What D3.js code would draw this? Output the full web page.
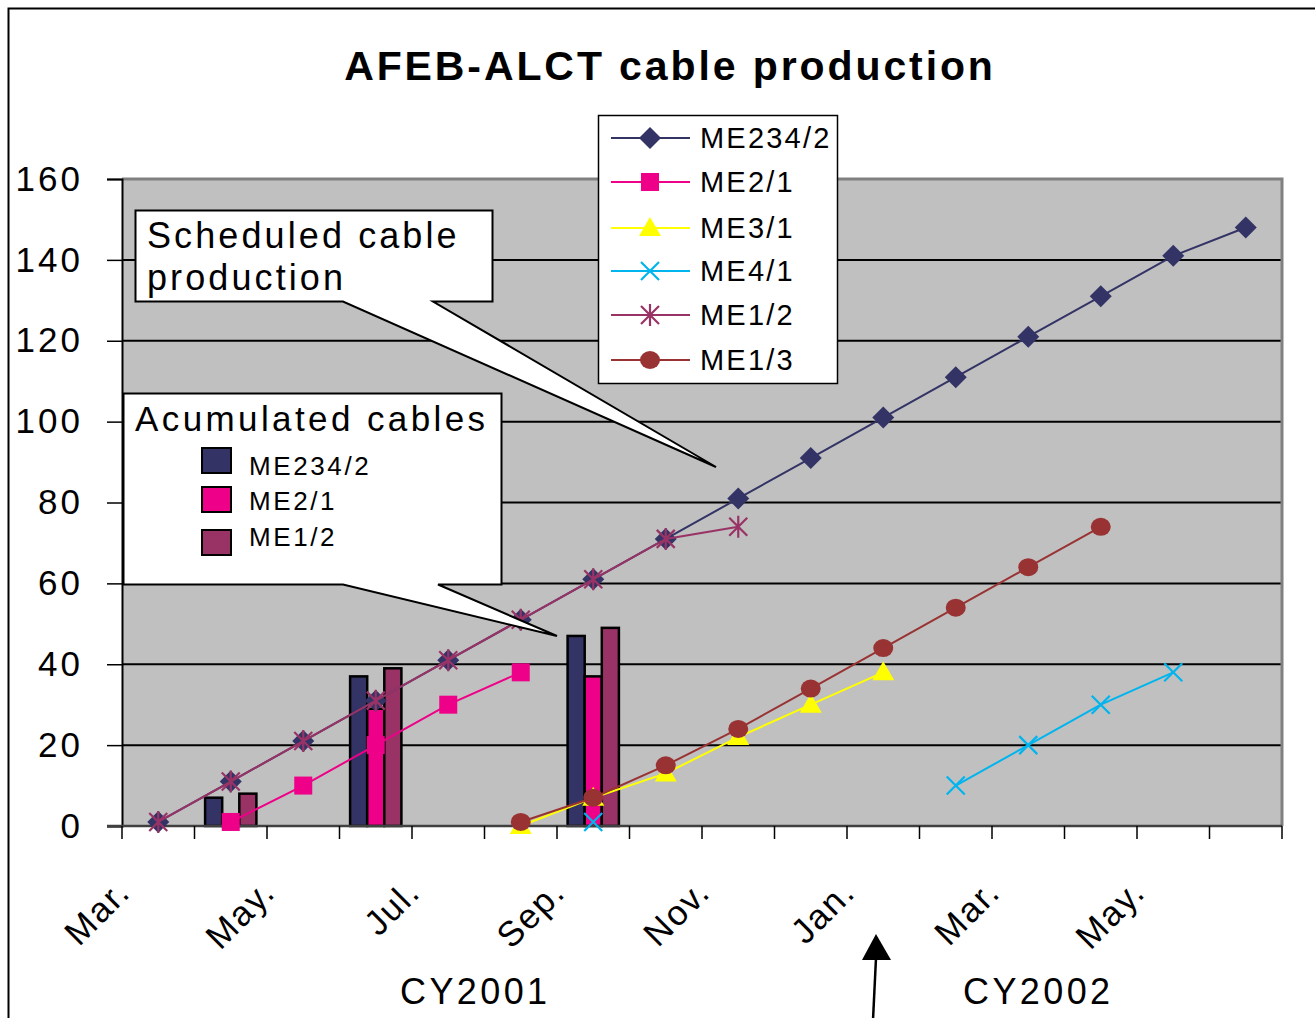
<!DOCTYPE html>
<html>
<head>
<meta charset="utf-8">
<script src="https://cdn.jsdelivr.net/npm/d3@7/dist/d3.min.js"></script>
<style>
  body { margin: 0; background: #fff; }
  svg { display: block; font-family: "Liberation Sans", Arial, sans-serif; }
</style>
</head>
<body>
<div id="chart"></div>
<script>
// months from Mar. 2001 to Jun. 2002
const categories = ["Mar.", "Apr.", "May.", "Jun.", "Jul.", "Aug.", "Sep.", "Oct.", "Nov.", "Dec.",
  "Jan.", "Feb.", "Mar.", "Apr.", "May.", "Jun."];
const shownLabels = [0, 2, 4, 6, 8, 10, 12, 14];
const yTicks = [0, 20, 40, 60, 80, 100, 120, 140, 160];

// scheduled production (lines), null = no point
const me234_2 = [1, 11, 21, 31, 41, 51, 61, 71, 81, 91, 101, 111, 121, 131, 141, 148];
const me2_1 = [null, 1, 10, 20, 30, 38, null, null, null, null, null, null, null, null, null, null];
const me3_1 = [null, null, null, null, null, 0, 7, 13, 22, 30, 38, null, null, null, null, null];
const me4_1 = [null, null, null, null, null, null, 1, null, null, null, null, 10, 20, 30, 38, null];
const me1_2 = [1, 11, 21, 31, 41, 51, 61, 71, 74, null, null, null, null, null, null, null];
const me1_3 = [null, null, null, null, null, 1, 7, 15, 24, 34, 44, 54, 64, 74, null, null];

// accumulated cables (bars)
const barCats = [1, 3, 6];
const barMe234_2 = [7, 37, 47];
const barMe2_1 = [1, 29, 37];
const barMe1_2 = [8, 39, 49];

const W = 1315, H = 1018;
const plot = { left: 122, top: 179, right: 1282, bottom: 826 };

const svg = d3.select("#chart").append("svg")
  .attr("width", W).attr("height", H);

// outer chart frame
svg.append("rect")
  .attr("x", 8.5).attr("y", 8.5).attr("width", W + 20).attr("height", H + 20)
  .attr("fill", "#fff").attr("stroke", "#000").attr("stroke-width", 2);

// title
svg.append("text")
  .attr("x", 670).attr("y", 80)
  .attr("text-anchor", "middle")
  .style("font-size", "41px").style("font-weight", "bold").style("letter-spacing", "2.9px")
  .text("AFEB-ALCT cable production");

const x = d3.scaleBand()
  .domain(d3.range(categories.length))
  .range([plot.left, plot.right])
  .padding(0);

const y = d3.scaleLinear()
  .domain([0, 160])
  .range([plot.bottom, plot.top]);

// plot background
svg.append("rect")
  .attr("x", plot.left).attr("y", plot.top)
  .attr("width", plot.right - plot.left).attr("height", plot.bottom - plot.top)
  .attr("fill", "#c0c0c0");

// gridlines
svg.append("g").selectAll("line")
  .data(yTicks.filter(d => d > 0 && d < 160))
  .enter().append("line")
  .attr("x1", plot.left).attr("x2", plot.right)
  .attr("y1", d => y(d)).attr("y2", d => y(d))
  .attr("stroke", "#000").attr("stroke-width", 2);

// plot border (top and right)
svg.append("path")
  .attr("d", `M${plot.left},${plot.top}H${plot.right}V${plot.bottom}`)
  .attr("fill", "none").attr("stroke", "#808080").attr("stroke-width", 3);

// bars
const inner = d3.scaleBand()
  .domain([0, 1, 2])
  .range([0, x.bandwidth()])
  .paddingInner(0)
  .paddingOuter(0.62);

const barSeries = [
  { values: barMe234_2, color: "#333366" },
  { values: barMe2_1, color: "#ee0088" },
  { values: barMe1_2, color: "#993366" }
];

barSeries.forEach((s, si) => {
  svg.append("g").selectAll("rect")
    .data(barCats.map((c, i) => ({ c, v: s.values[i] })))
    .enter().append("rect")
    .attr("x", d => x(d.c) + inner(si))
    .attr("y", d => y(d.v))
    .attr("width", inner.bandwidth())
    .attr("height", d => y(0) - y(d.v))
    .attr("fill", s.color)
    .attr("stroke", "#000").attr("stroke-width", 2.5);
});

// y axis
const yAxis = svg.append("g")
  .attr("transform", `translate(${plot.left},0)`)
  .call(d3.axisLeft(y).tickValues(yTicks).tickSize(15).tickPadding(24));
yAxis.select(".domain").attr("stroke", "#000").attr("stroke-width", 2);
yAxis.selectAll(".tick line").attr("stroke", "#000").attr("stroke-width", 1.5);
yAxis.selectAll("text")
  .style("font-size", "35px").style("letter-spacing", "3px")
  .attr("fill", "#000");

// x axis line and boundary ticks
svg.append("line")
  .attr("x1", plot.left - 15).attr("x2", plot.right)
  .attr("y1", plot.bottom).attr("y2", plot.bottom)
  .attr("stroke", "#404040").attr("stroke-width", 2.5);

svg.append("g").selectAll("line")
  .data(d3.range(categories.length + 1))
  .enter().append("line")
  .attr("x1", d => plot.left + d * x.step()).attr("x2", d => plot.left + d * x.step())
  .attr("y1", plot.bottom).attr("y2", plot.bottom + 13)
  .attr("stroke", "#000").attr("stroke-width", 1.5);

// x labels
const xAxis = svg.append("g")
  .attr("transform", `translate(0,${plot.bottom})`)
  .call(d3.axisBottom(x).tickValues(shownLabels).tickSize(0).tickFormat(i => categories[i]));
xAxis.select(".domain").remove();
xAxis.selectAll("text")
  .attr("y", 0).attr("dy", 0)
  .attr("text-anchor", "end")
  .attr("transform", "translate(-26,68) rotate(-45)")
  .style("font-size", "35px").style("letter-spacing", "1.8px")
  .attr("fill", "#000");

// lines + markers
const lineGen = d3.line()
  .defined(d => d.v !== null)
  .x(d => x(d.i) + x.bandwidth() / 2)
  .y(d => y(d.v));

function marker(g, type, color) {
  if (type === "diamond") {
    g.append("path").attr("d", "M0,-11L11,0L0,11L-11,0Z").attr("fill", color);
  } else if (type === "square") {
    g.append("rect").attr("x", -9).attr("y", -9).attr("width", 18).attr("height", 18).attr("fill", color);
  } else if (type === "triangle") {
    g.append("path").attr("d", "M0,-11L11,8L-11,8Z").attr("fill", color);
  } else if (type === "x") {
    g.append("path").attr("d", "M-9,-9L9,9M-9,9L9,-9").attr("stroke", color).attr("stroke-width", 2.2);
  } else if (type === "star") {
    g.append("path").attr("d", "M-9,-9L9,9M-9,9L9,-9M0,-11V11")
      .attr("stroke", color).attr("stroke-width", 2.2);
  } else if (type === "circle") {
    g.append("ellipse").attr("rx", 10).attr("ry", 9).attr("fill", color);
  }
}

const lineSeries = [
  { name: "ME234/2", values: me234_2, color: "#333366", marker: "diamond" },
  { name: "ME2/1", values: me2_1, color: "#ee0088", marker: "square" },
  { name: "ME3/1", values: me3_1, color: "#ffff00", marker: "triangle" },
  { name: "ME4/1", values: me4_1, color: "#00b4ee", marker: "x" },
  { name: "ME1/2", values: me1_2, color: "#993366", marker: "star" },
  { name: "ME1/3", values: me1_3, color: "#993333", marker: "circle" }
];

lineSeries.forEach(s => {
  const pts = s.values.map((v, i) => ({ i, v }));
  svg.append("path")
    .datum(pts)
    .attr("d", lineGen)
    .attr("fill", "none").attr("stroke", s.color).attr("stroke-width", 2);
  svg.append("g").selectAll("g")
    .data(pts.filter(d => d.v !== null))
    .enter().append("g")
    .attr("transform", d => `translate(${x(d.i) + x.bandwidth() / 2},${y(d.v)})`)
    .each(function () { marker(d3.select(this), s.marker, s.color); });
});

// legend for lines
const legend = svg.append("g");
legend.append("rect")
  .attr("x", 598.5).attr("y", 115.5).attr("width", 239).attr("height", 268)
  .attr("fill", "#fff").attr("stroke", "#000").attr("stroke-width", 1.5);
const legendRows = [138, 182, 228, 271, 315, 360];
lineSeries.forEach((s, i) => {
  const row = legend.append("g").attr("transform", `translate(0,${legendRows[i]})`);
  row.append("line").attr("x1", 611).attr("x2", 690).attr("y1", 0).attr("y2", 0)
    .attr("stroke", s.color).attr("stroke-width", 2);
  marker(row.append("g").attr("transform", "translate(650,0)"), s.marker, s.color);
  row.append("text").attr("x", 700).attr("y", 10)
    .style("font-size", "29px").style("letter-spacing", "2.2px")
    .text(s.name);
});

// callout: scheduled production
svg.append("path")
  .attr("d", "M135.5,210.5H492.5V301.5H433L716,467L343,301.5H135.5Z")
  .attr("fill", "#fff").attr("stroke", "#000").attr("stroke-width", 2);
svg.append("text").attr("x", 147).attr("y", 248)
  .style("font-size", "36px").style("letter-spacing", "3.1px")
  .text("Scheduled cable");
svg.append("text").attr("x", 147).attr("y", 290)
  .style("font-size", "36px").style("letter-spacing", "3.1px")
  .text("production");

// callout: accumulated cables with bar legend
svg.append("path")
  .attr("d", "M123.5,393.5H501.5V584.5H438L557,636L343,584.5H123.5Z")
  .attr("fill", "#fff").attr("stroke", "#000").attr("stroke-width", 2);
svg.append("text").attr("x", 135).attr("y", 431)
  .style("font-size", "35px").style("letter-spacing", "3.4px")
  .text("Acumulated cables");
const barNames = ["ME234/2", "ME2/1", "ME1/2"];
const barRows = [448, 487, 530];
const barTextRows = [475, 510, 546];
barSeries.forEach((s, i) => {
  svg.append("rect").attr("x", 202).attr("y", barRows[i])
    .attr("width", 29).attr("height", 25)
    .attr("fill", s.color).attr("stroke", "#000").attr("stroke-width", 2);
  svg.append("text").attr("x", 249).attr("y", barTextRows[i])
    .style("font-size", "26px").style("letter-spacing", "2.6px")
    .text(barNames[i]);
});

// calendar year labels
svg.append("text").attr("x", 400).attr("y", 1004)
  .style("font-size", "36px").style("letter-spacing", "3.4px").text("CY2001");
svg.append("text").attr("x", 963).attr("y", 1004)
  .style("font-size", "36px").style("letter-spacing", "3.4px").text("CY2002");

// arrow marking the year change
svg.append("line")
  .attr("x1", 873).attr("y1", 1020).attr("x2", 876).attr("y2", 958)
  .attr("stroke", "#000").attr("stroke-width", 2.5);
svg.append("path")
  .attr("d", "M876,934L891,960L862,960Z")
  .attr("fill", "#000");
</script>
</body>
</html>
